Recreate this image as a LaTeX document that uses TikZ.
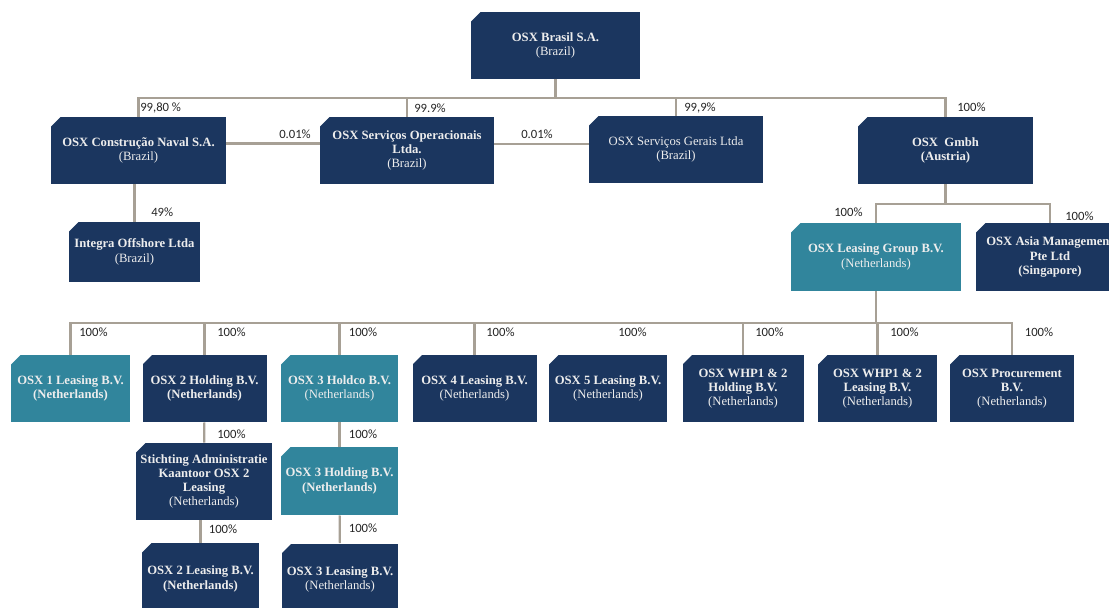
\documentclass[tikz,border=0pt]{standalone}
\usepackage{fontspec}
\setmainfont{Liberation Serif}
\newfontfamily\pctfont{Carlito}

\definecolor{navybox}{HTML}{1B365F}
\definecolor{tealbox}{HTML}{31859C}
\definecolor{linkgray}{HTML}{A7A095}
\definecolor{boxtext}{HTML}{EDEDED}

\tikzset{
  firm/.style={rectangle, fill=navybox, text=boxtext, inner sep=0pt,
    align=center, font=\fontsize{9.5}{10.7}\selectfont,
    path picture={\fill[white] (path picture bounding box.north west) -- ++(7pt,0) -- ++(-7pt,-7pt) -- cycle;}},
  nlfirm/.style={firm, fill=tealbox},
  boxsize/.style 2 args={minimum width=#1*0.75pt, minimum height=#2*0.75pt},
  link/.style={draw=linkgray, line width=1.6pt},
  pct/.style={font=\pctfont\fontsize{9.5}{11}\selectfont, inner sep=0pt, anchor=west, text=black!85},
}

\begin{document}
\begin{tikzpicture}[x=0.75pt, y=-0.75pt]
    \useasboundingbox (0,0) rectangle (1109,607);
    \clip (0,0) rectangle (1109,607);

    % holding
    \node[firm, boxsize={169}{67}] (brasil) at (555.5,45.5) {\textbf{OSX Brasil S.A.}\\(Brazil)};

    % brazilian companies and Gmbh
    \node[firm, boxsize={175}{67}] (naval) at (138.5,150.5) {\textbf{OSX Construção Naval S.A.}\\(Brazil)};
    \node[firm, boxsize={174}{67}] (operac) at (407,150.5) {\textbf{OSX Serviços Operacionais}\\\textbf{Ltda.}\\(Brazil)};
    \node[firm, boxsize={174}{67}] (gerais) at (676,149.5) {OSX Serviços Gerais Ltda\\(Brazil)};
    \node[firm, boxsize={175}{67}] (gmbh) at (945.5,150.5) {\textbf{OSX\ \ Gmbh}\\\textbf{(Austria)}};
    \node[firm, boxsize={131}{60}] (integra) at (134.5,252) {\textbf{Integra Offshore Ltda}\\(Brazil)};
    \node[nlfirm, boxsize={170}{68}] (lgroup) at (876,257) {\textbf{OSX Leasing Group B.V.}\\(Netherlands)};
    \node[firm, boxsize={148}{68}] (asia) at (1050,257) {\textbf{OSX Asia Management}\\\textbf{Pte Ltd}\\\textbf{(Singapore)}};

    % dutch companies
    \node[nlfirm, boxsize={119}{67}] (osx1) at (70.5,388.5) {\textbf{OSX 1 Leasing B.V.}\\\textbf{(Netherlands)}};
    \node[firm, boxsize={124}{67}] (hold2) at (204.5,388.5) {\textbf{OSX 2 Holding B.V.}\\\textbf{(Netherlands)}};
    \node[nlfirm, boxsize={117}{67}] (holdco3) at (339.5,388.5) {\textbf{OSX 3 Holdco B.V.}\\(Netherlands)};
    \node[firm, boxsize={124}{67}] (lease4) at (474.5,388.5) {\textbf{OSX 4 Leasing B.V.}\\(Netherlands)};
    \node[firm, boxsize={118}{67}] (lease5) at (608,388.5) {\textbf{OSX 5 Leasing B.V.}\\(Netherlands)};
    \node[firm, boxsize={121}{67}] (whphold) at (743,388.5) {\textbf{OSX WHP1 \& 2}\\\textbf{Holding B.V.}\\(Netherlands)};
    \node[firm, boxsize={119}{67}] (whplease) at (877.5,388.5) {\textbf{OSX WHP1 \& 2}\\\textbf{Leasing B.V.}\\(Netherlands)};
    \node[firm, boxsize={124}{67}] (procure) at (1012,388.5) {\textbf{OSX Procurement}\\\textbf{B.V.}\\(Netherlands)};

    \node[firm, boxsize={136}{77}] (stichting) at (204,481.5) {\textbf{Stichting Administratie}\\\textbf{Kaantoor OSX 2}\\\textbf{Leasing}\\(Netherlands)};
    \node[nlfirm, boxsize={117}{68}] (holding3) at (339.5,481) {\textbf{OSX 3 Holding B.V.}\\\textbf{(Netherlands)}};
    \node[firm, boxsize={117}{72}] (lease2) at (200.5,579) {\textbf{OSX 2 Leasing B.V.}\\\textbf{(Netherlands)}};
    \node[firm, boxsize={116}{72}] (lease3) at (340,579.5) {\textbf{OSX 3 Leasing B.V.}\\(Netherlands)};

    % ownership lines
    \coordinate (bus1) at (brasil.south |- 0,98);
    \draw[link] (brasil) -- (bus1);
    \foreach \n in {naval,operac,gerais,gmbh}
        \draw[link] (bus1) -| (\n);
    \draw[link] (naval.east |- 0,143.5) -- (operac.west |- 0,143.5);
    \draw[link] (operac.east |- 0,144) -- (gerais.west |- 0,144);
    \draw[link] (integra) -- (integra.north |- naval.south);

    \coordinate (bus2) at (gmbh.south |- 0,204);
    \draw[link] (gmbh) -- (bus2);
    \draw[link] (bus2) -| (lgroup);
    \draw[link] (bus2) -| (asia);

    \coordinate (bus3) at (lgroup.south |- 0,322.7);
    \draw[link] (lgroup) -- (bus3);
    \foreach \n in {osx1,hold2,holdco3,lease4,whphold,whplease,procure}
        \draw[link] (bus3) -| (\n);

    \draw[link] (hold2) -- (stichting);
    \draw[link] (lease2) -- (lease2.north |- stichting.south);
    \draw[link] (holdco3) -- (holding3);
    \draw[link] (holding3) -- (lease3);

    % percentages
    \node[pct] (p-naval) at (140,108) {99,80 \%};
    \node[pct] (p-operac) at (414,108) {99.9\%};
    \node[pct] (p-gerais) at (684,108) {99,9\%};
    \node[pct] (p-gmbh) at (957,107) {100\%};
    \node[pct] (p-cross1) at (279,134.7) {0.01\%};
    \node[pct] (p-cross2) at (521,134.7) {0.01\%};
    \node[pct] (p-integra) at (151,212) {49\%};
    \node[pct] (p-lgroup) at (834,212) {100\%};
    \node[pct] (p-asia) at (1065,216) {100\%};
    \foreach \x/\n in {79/osx1,217/hold2,348.6/holdco3,486/lease4,618/lease5,755/whphold,890/whplease,1024.6/procure}
        \node[pct] (p-\n) at (\x,332) {100\%};
    \node[pct] (p-stichting) at (217,434.7) {100\%};
    \node[pct] (p-lease2) at (208.6,529) {100\%};
    \node[pct] (p-holding3) at (348.6,434.7) {100\%};
    \node[pct] (p-lease3) at (348.6,528.7) {100\%};

\end{tikzpicture}
\end{document}
